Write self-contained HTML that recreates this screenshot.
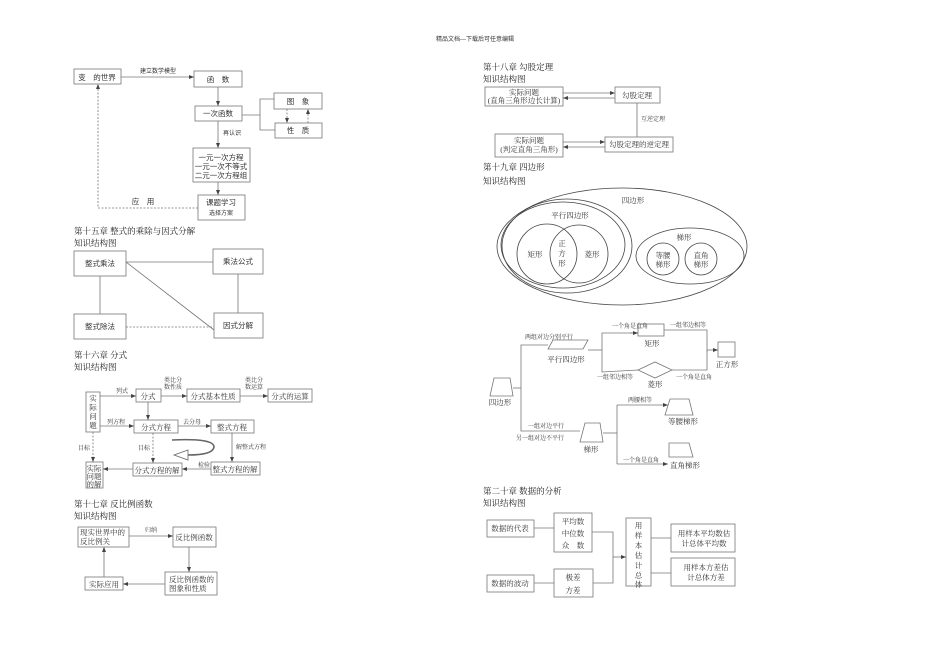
<!DOCTYPE html>
<html><head><meta charset="utf-8"><style>
html,body{margin:0;padding:0;background:#fff;}
svg{display:block;}
text{font-family:"Liberation Serif","Noto Serif CJK SC","Noto Sans CJK SC",serif;fill:#333;font-size:7.5px;}
.s{font-family:"Liberation Sans","Noto Sans CJK SC",sans-serif;}
.t{font-size:8.5px;fill:#222;}
.l{font-size:6px;}
</style></head><body>
<svg width="950" height="672" viewBox="0 0 950 672" xmlns="http://www.w3.org/2000/svg">
<defs>
<marker id="a" markerWidth="6" markerHeight="6" refX="5" refY="3" orient="auto" markerUnits="userSpaceOnUse"><path d="M0,1 L5,3 L0,5 Z" fill="#444"/></marker>
</defs>
<g fill="none" stroke="#777" stroke-width="0.8">
<text x="475" y="41" text-anchor="middle" class="s" style="font-size:6px" stroke="none">精品文档---下载后可任意编辑</text>

<!-- Ch14 -->
<rect x="74" y="69" width="47" height="15"/>
<rect x="194" y="71" width="48" height="16"/>
<rect x="195" y="106" width="47" height="15"/>
<rect x="274" y="93" width="48" height="16"/>
<rect x="275" y="123" width="47" height="15"/>
<rect x="193" y="148" width="57" height="34"/>
<rect x="198" y="195" width="47" height="25"/>
<line x1="121" y1="77" x2="194" y2="77" marker-end="url(#a)"/>
<line x1="218" y1="87" x2="218" y2="106" marker-end="url(#a)"/>
<polyline points="242,115 260,115"/>
<polyline points="274,99 260,99 260,130 275,130"/>
<line x1="287" y1="109" x2="287" y2="123" stroke-dasharray="2,1.5" marker-end="url(#a)"/>
<line x1="308" y1="123" x2="308" y2="109" stroke-dasharray="2,1.5" marker-end="url(#a)"/>
<line x1="218" y1="121" x2="218" y2="148" marker-end="url(#a)"/>
<line x1="218" y1="182" x2="218" y2="195" marker-end="url(#a)"/>
<polyline points="198,208 98,208 98,84" stroke-dasharray="2,1.5" marker-end="url(#a)"/>

<!-- Ch15 -->
<rect x="74" y="251" width="52" height="25"/>
<rect x="213" y="249" width="50" height="25"/>
<rect x="74" y="314" width="52" height="25"/>
<rect x="214" y="313" width="49" height="25"/>
<line x1="126" y1="262" x2="213" y2="262"/>
<line x1="126" y1="262" x2="214" y2="330"/>
<line x1="100" y1="276" x2="100" y2="314"/>
<line x1="238" y1="274" x2="238" y2="313"/>
<line x1="126" y1="327" x2="214" y2="327" stroke-dasharray="2,1.5"/>

<!-- Ch16 -->
<rect x="86" y="392" width="14" height="40"/>
<rect x="136" y="389" width="25" height="13"/>
<rect x="187" y="389" width="53" height="13"/>
<rect x="268" y="389" width="44" height="13"/>
<rect x="134" y="420" width="44" height="13"/>
<rect x="211" y="420" width="43" height="13"/>
<rect x="211" y="462" width="49" height="13"/>
<rect x="133" y="463" width="49" height="13"/>
<rect x="86" y="462" width="17" height="26"/>
<line x1="100" y1="396" x2="136" y2="396" marker-end="url(#a)"/>
<line x1="161" y1="396" x2="187" y2="396" marker-end="url(#a)"/>
<line x1="240" y1="396" x2="268" y2="396" marker-end="url(#a)"/>
<line x1="100" y1="426" x2="134" y2="426" marker-end="url(#a)"/>
<line x1="148" y1="402" x2="148" y2="420" marker-end="url(#a)"/>
<line x1="178" y1="426" x2="211" y2="426" marker-end="url(#a)"/>
<line x1="232" y1="433" x2="232" y2="462" marker-end="url(#a)"/>
<line x1="211" y1="469" x2="182" y2="469" marker-end="url(#a)"/>
<line x1="133" y1="469" x2="103" y2="469" marker-end="url(#a)"/>
<line x1="93" y1="432" x2="93" y2="462" stroke-dasharray="2,1.5" marker-end="url(#a)"/>
<line x1="153" y1="433" x2="153" y2="463" stroke-dasharray="2,1.5" marker-end="url(#a)"/>
<path d="M172,440 Q214,438 214,447 Q213,455 188,455" stroke="#666" stroke-width="1.6"/>
<path d="M188,450 L174,455 L188,460 Z" fill="#fff" stroke="#666"/>

<!-- Ch17 -->
<rect x="78" y="527" width="51" height="20"/>
<rect x="173" y="527" width="43" height="20"/>
<rect x="165" y="572" width="52" height="23"/>
<rect x="85" y="577" width="38" height="13"/>
<line x1="129" y1="536" x2="173" y2="536" marker-end="url(#a)"/>
<line x1="189" y1="547" x2="189" y2="572" marker-end="url(#a)"/>
<line x1="165" y1="584" x2="123" y2="584" marker-end="url(#a)"/>
<line x1="104" y1="577" x2="104" y2="547" marker-end="url(#a)"/>

<!-- Ch18 -->
<rect x="485" y="87" width="78" height="19"/>
<rect x="615" y="87" width="45" height="16"/>
<rect x="495" y="134" width="68" height="23"/>
<rect x="605" y="137" width="68" height="15"/>
<line x1="563" y1="93" x2="615" y2="93" marker-end="url(#a)"/>
<line x1="615" y1="98" x2="563" y2="98" marker-end="url(#a)"/>
<line x1="563" y1="142" x2="605" y2="142" marker-end="url(#a)"/>
<line x1="605" y1="147" x2="563" y2="147" marker-end="url(#a)"/>
<line x1="637" y1="103" x2="637" y2="137"/>

<!-- Ch19 Venn -->
<g stroke="#444">
<ellipse cx="622" cy="246.5" rx="125" ry="58.5"/>
<ellipse cx="567" cy="246" rx="65" ry="47"/>
<ellipse cx="563" cy="245" rx="62" ry="43"/>
<circle cx="547" cy="254" r="30"/>
<circle cx="579" cy="254" r="29"/>
<ellipse cx="690" cy="256" rx="54" ry="28"/>
<circle cx="663" cy="259" r="16"/>
<circle cx="701" cy="259" r="16"/>
</g>

<!-- Ch19 tree -->
<path d="M494,378 L510,378 L513,396 L490,396 Z"/>
<polyline points="513,388 521,388"/>
<polyline points="548,345 521,345 521,431 580,431"/>
<path d="M553,340 L588,340 L583,349 L548,349 Z"/>
<polyline points="588,350 602,350"/>
<polyline points="638,333 602,333 602,372 638,370"/>
<line x1="630" y1="333" x2="638" y2="333" marker-end="url(#a)"/>
<rect x="638" y="324" width="26" height="12"/>
<polyline points="664,330 707,330 707,352"/>
<line x1="707" y1="350" x2="718" y2="350" marker-end="url(#a)"/>
<rect x="718" y="342" width="17" height="15"/>
<path d="M638,370 L655,362 L672,370 L655,378 Z"/>
<polyline points="672,370 707,370 707,350"/>
<path d="M585,423 L600,423 L603,442 L580,442 Z"/>
<polyline points="603,433 617,433"/>
<polyline points="617,405 617,464"/>
<line x1="617" y1="405" x2="668" y2="405" marker-end="url(#a)"/>
<line x1="617" y1="464" x2="668" y2="464" marker-end="url(#a)"/>
<path d="M670,399 L689,399 L693,415 L665,415 Z"/>
<path d="M669,443 L689,443 L693,457 L669,457 Z"/>

<!-- Ch20 -->
<rect x="487" y="520" width="47" height="17"/>
<rect x="554" y="513" width="38" height="39"/>
<rect x="487" y="575" width="47" height="17"/>
<rect x="554" y="569" width="39" height="28"/>
<rect x="626" y="518" width="25" height="68"/>
<rect x="671" y="524" width="64" height="28"/>
<rect x="671" y="558" width="64" height="28"/>
<line x1="534" y1="528" x2="554" y2="528"/>
<line x1="534" y1="583" x2="554" y2="583"/>
<polyline points="592,532 613,532 613,583 593,583"/>
<line x1="613" y1="557" x2="626" y2="557" marker-end="url(#a)"/>
<line x1="651" y1="538" x2="671" y2="538"/>
<line x1="651" y1="573" x2="671" y2="573"/>
</g>

<g>
<!-- Ch14 text -->
<text x="97" y="80" text-anchor="middle" class="s">变　的世界</text>
<text x="158" y="73" text-anchor="middle" class="s l">建立数学模型</text>
<text x="218" y="82" text-anchor="middle" class="s">函　数</text>
<text x="218" y="116" text-anchor="middle" class="s">一次函数</text>
<text x="298" y="104" text-anchor="middle" class="s">图　象</text>
<text x="298" y="133" text-anchor="middle" class="s">性　质</text>
<text x="232" y="135" text-anchor="middle" class="s l">再认识</text>
<text x="221" y="160" text-anchor="middle" class="s">一元一次方程</text>
<text x="221" y="169" text-anchor="middle" class="s">一元一次不等式</text>
<text x="221" y="178" text-anchor="middle" class="s">二元一次方程组</text>
<text x="221" y="205" text-anchor="middle" class="s">课题学习</text>
<text x="221" y="215" text-anchor="middle" class="s l">选择方案</text>
<text x="143" y="204" text-anchor="middle" class="s">应　用</text>
<!-- Ch15 -->
<text x="74" y="234" class="t">第十五章  整式的乘除与因式分解</text>
<text x="74" y="246" class="t">知识结构图</text>
<text x="100" y="266" text-anchor="middle" class="s">整式乘法</text>
<text x="238" y="264" text-anchor="middle" class="s">乘法公式</text>
<text x="100" y="329" text-anchor="middle" class="s">整式除法</text>
<text x="238" y="328" text-anchor="middle" class="s">因式分解</text>
<!-- Ch16 -->
<text x="74" y="358" class="t">第十六章  分式</text>
<text x="74" y="370" class="t">知识结构图</text>
<text x="93" y="401" text-anchor="middle">实</text><text x="93" y="410" text-anchor="middle">际</text><text x="93" y="419" text-anchor="middle">问</text><text x="93" y="428" text-anchor="middle">题</text>
<text x="148" y="399" text-anchor="middle">分式</text>
<text x="213" y="399" text-anchor="middle">分式基本性质</text>
<text x="290" y="399" text-anchor="middle">分式的运算</text>
<text x="156" y="430" text-anchor="middle">分式方程</text>
<text x="232" y="430" text-anchor="middle">整式方程</text>
<text x="235" y="472" text-anchor="middle">整式方程的解</text>
<text x="157" y="473" text-anchor="middle">分式方程的解</text>
<text x="94" y="471" text-anchor="middle">实际</text><text x="94" y="479" text-anchor="middle">问题</text><text x="94" y="487" text-anchor="middle">的解</text>
<text x="116" y="393" class="l">列式</text>
<text x="173" y="382" text-anchor="middle" class="l">类比分</text><text x="173" y="389" text-anchor="middle" class="l">数性质</text>
<text x="254" y="382" text-anchor="middle" class="l">类比分</text><text x="254" y="389" text-anchor="middle" class="l">数运算</text>
<text x="107" y="424" class="l">列方程</text>
<text x="183" y="424" class="l">去分母</text>
<text x="236" y="449" class="l">解整式方程</text>
<text x="198" y="467" class="l">检验</text>
<text x="78" y="450" class="l">目标</text>
<text x="138" y="450" class="l">目标</text>
<!-- Ch17 -->
<text x="74" y="507" class="t">第十七章  反比例函数</text>
<text x="74" y="519" class="t">知识结构图</text>
<text x="80" y="535">现实世界中的</text><text x="80" y="544">反比例关</text>
<text x="194" y="540" text-anchor="middle">反比例函数</text>
<text x="145" y="532" class="l">归纳</text>
<text x="169" y="582">反比例函数的</text><text x="169" y="591">图象和性质</text>
<text x="104" y="587" text-anchor="middle">实际应用</text>
<!-- Ch18 -->
<text x="483" y="70" class="t">第十八章  勾股定理</text>
<text x="483" y="82" class="t">知识结构图</text>
<text x="524" y="95" text-anchor="middle">实际问题</text>
<text x="524" y="103" text-anchor="middle">(直角三角形边长计算)</text>
<text x="637" y="98" text-anchor="middle">勾股定理</text>
<text x="641" y="121" class="l">互逆定理</text>
<text x="529" y="143" text-anchor="middle">实际问题</text>
<text x="529" y="152" text-anchor="middle">(判定直角三角形)</text>
<text x="639" y="147" text-anchor="middle">勾股定理的逆定理</text>
<!-- Ch19 -->
<text x="483" y="170" class="t">第十九章  四边形</text>
<text x="483" y="184" class="t">知识结构图</text>
<text x="633" y="203" text-anchor="middle">四边形</text>
<text x="570" y="218" text-anchor="middle">平行四边形</text>
<text x="535" y="257" text-anchor="middle">矩形</text>
<text x="562" y="246" text-anchor="middle">正</text><text x="562" y="256" text-anchor="middle">方</text><text x="562" y="266" text-anchor="middle">形</text>
<text x="592" y="257" text-anchor="middle">菱形</text>
<text x="684" y="240" text-anchor="middle">梯形</text>
<text x="663" y="258" text-anchor="middle">等腰</text><text x="663" y="267" text-anchor="middle">梯形</text>
<text x="701" y="258" text-anchor="middle">直角</text><text x="701" y="267" text-anchor="middle">梯形</text>
<!-- tree -->
<text x="500" y="405" text-anchor="middle">四边形</text>
<text x="525" y="339" class="l">两组对边分别平行</text>
<text x="566" y="362" text-anchor="middle">平行四边形</text>
<text x="612" y="328" class="l">一个角是直角</text>
<text x="652" y="346" text-anchor="middle">矩形</text>
<text x="670" y="327" class="l">一组邻边相等</text>
<text x="727" y="367" text-anchor="middle">正方形</text>
<text x="597" y="379" class="l">一组邻边相等</text>
<text x="655" y="387" text-anchor="middle">菱形</text>
<text x="676" y="379" class="l">一个角是直角</text>
<text x="528" y="428" class="l">一组对边平行</text>
<text x="516" y="440" class="l">另一组对边不平行</text>
<text x="591" y="452" text-anchor="middle">梯形</text>
<text x="628" y="402" class="l">两腰相等</text>
<text x="683" y="424" text-anchor="middle">等腰梯形</text>
<text x="623" y="462" class="l">一个角是直角</text>
<text x="685" y="468" text-anchor="middle">直角梯形</text>
<!-- Ch20 -->
<text x="483" y="494" class="t">第二十章  数据的分析</text>
<text x="483" y="506" class="t">知识结构图</text>
<text x="510" y="531" text-anchor="middle">数据的代表</text>
<text x="573" y="524" text-anchor="middle">平均数</text>
<text x="573" y="536" text-anchor="middle">中位数</text>
<text x="573" y="548" text-anchor="middle">众　数</text>
<text x="510" y="586" text-anchor="middle">数据的波动</text>
<text x="573" y="580" text-anchor="middle">极差</text>
<text x="573" y="593" text-anchor="middle">方差</text>
<text x="638.5" y="528" text-anchor="middle">用</text><text x="638.5" y="538" text-anchor="middle">样</text><text x="638.5" y="548" text-anchor="middle">本</text><text x="638.5" y="558" text-anchor="middle">估</text><text x="638.5" y="568" text-anchor="middle">计</text><text x="638.5" y="578" text-anchor="middle">总</text><text x="638.5" y="587" text-anchor="middle">体</text>
<text x="704" y="536" text-anchor="middle">用样本平均数估</text>
<text x="704" y="546" text-anchor="middle">计总体平均数</text>
<text x="706" y="570" text-anchor="middle">用样本方差估</text>
<text x="706" y="580" text-anchor="middle">计总体方差</text>
</g>
</svg>
</body></html>
